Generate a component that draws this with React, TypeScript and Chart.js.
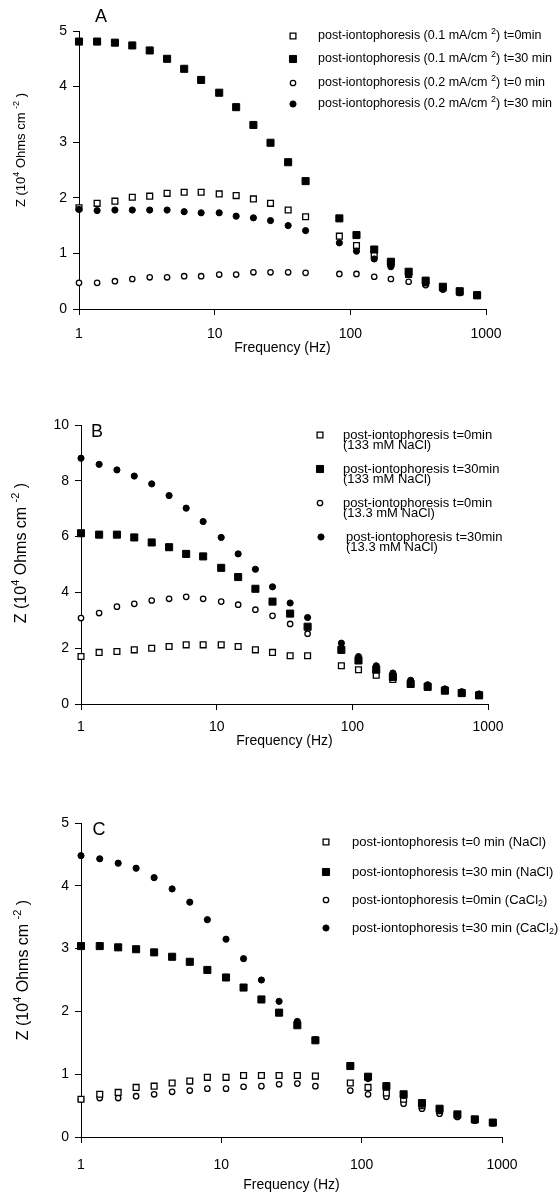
import React, { useEffect, useRef } from "react";
import { Chart, registerables } from "chart.js";

Chart.register(...registerables);

// ---------------- DATA ----------------
const FREQ_HZ = [1, 1.36, 1.84, 2.47, 3.32, 4.46, 5.96, 7.95, 10.8, 14.4, 19.3, 25.8, 34.8, 46.8, 83, 111, 150, 199, 269, 359, 481, 640, 860];
const X_TICKS = [1, 10, 100, 1000];
const X_TITLE = "Frequency (Hz)";
const Y_TITLE = "Z (10^{4} Ohms cm ^{-2} )";

// Panel A
const A_Y_TICKS = [0, 1, 2, 3, 4, 5];
const A_LABELS = [
  "post-iontophoresis (0.1 mA/cm ^{2}) t=0min",
  "post-iontophoresis (0.1 mA/cm ^{2}) t=30 min",
  "post-iontophoresis (0.2 mA/cm ^{2}) t=0 min",
  "post-iontophoresis (0.2 mA/cm ^{2}) t=30 min",
];
const A_01_T0 = [1.82, 1.90, 1.94, 2.01, 2.03, 2.08, 2.10, 2.10, 2.07, 2.04, 1.98, 1.90, 1.78, 1.66, 1.31, 1.14, 0.97, 0.82, 0.62, 0.47, 0.38, 0.30, 0.24];
const A_01_T30 = [4.81, 4.81, 4.79, 4.74, 4.65, 4.50, 4.32, 4.12, 3.89, 3.63, 3.31, 2.99, 2.64, 2.30, 1.63, 1.33, 1.07, 0.85, 0.67, 0.51, 0.40, 0.32, 0.25];
const A_02_T0 = [0.47, 0.47, 0.50, 0.54, 0.57, 0.57, 0.59, 0.59, 0.62, 0.62, 0.66, 0.66, 0.66, 0.65, 0.63, 0.63, 0.58, 0.54, 0.49, 0.43, 0.35, 0.29, 0.24];
const A_02_T30 = [1.79, 1.77, 1.78, 1.78, 1.78, 1.78, 1.75, 1.73, 1.73, 1.67, 1.64, 1.59, 1.50, 1.41, 1.19, 1.04, 0.90, 0.76, 0.62, 0.48, 0.37, 0.30, 0.24];

// Panel B
const B_Y_TICKS = [0, 2, 4, 6, 8, 10];
const B_LABELS = [
  ["post-iontophoresis t=0min", "(133 mM NaCl)"],
  ["post-iontophoresis t=30min", "(133 mM NaCl)"],
  ["post-iontophoresis t=0min", "(13.3 mM NaCl)"],
  ["post-iontophoresis t=30min", "(13.3 mM NaCl)"],
];
const B_133_T0 = [1.70, 1.85, 1.88, 1.94, 2.00, 2.06, 2.12, 2.12, 2.12, 2.06, 1.94, 1.85, 1.73, 1.73, 1.37, 1.23, 1.03, 0.88, 0.72, 0.60, 0.48, 0.40, 0.31];
const B_133_T30 = [6.12, 6.07, 6.07, 5.97, 5.79, 5.62, 5.38, 5.29, 4.88, 4.55, 4.13, 3.67, 3.24, 2.77, 1.94, 1.56, 1.23, 0.97, 0.72, 0.62, 0.48, 0.39, 0.31];
const B_13_T0 = [3.08, 3.26, 3.49, 3.59, 3.71, 3.77, 3.84, 3.77, 3.67, 3.56, 3.38, 3.16, 2.87, 2.52, 2.00, 1.60, 1.25, 1.00, 0.78, 0.64, 0.50, 0.41, 0.32];
const B_13_T30 = [8.81, 8.59, 8.39, 8.17, 7.89, 7.47, 7.02, 6.54, 5.97, 5.38, 4.83, 4.20, 3.62, 3.10, 2.18, 1.70, 1.37, 1.11, 0.85, 0.69, 0.54, 0.44, 0.36];

// Panel C
const C_Y_TICKS = [0, 1, 2, 3, 4, 5];
const C_LABELS = [
  "post-iontophoresis t=0 min (NaCl)",
  "post-iontophoresis t=30 min (NaCl)",
  "post-iontophoresis t=0min (CaCl_{2})",
  "post-iontophoresis t=30 min (CaCl_{2})",
];
const C_NACL_T0 = [0.60, 0.68, 0.71, 0.79, 0.81, 0.86, 0.89, 0.95, 0.95, 0.98, 0.98, 0.98, 0.98, 0.97, 0.86, 0.79, 0.70, 0.60, 0.50, 0.42, 0.35, 0.28, 0.23];
const C_NACL_T30 = [3.04, 3.04, 3.02, 2.99, 2.94, 2.87, 2.79, 2.66, 2.54, 2.38, 2.19, 1.98, 1.78, 1.54, 1.13, 0.96, 0.81, 0.68, 0.54, 0.45, 0.36, 0.28, 0.23];
const C_CACL_T0 = [0.60, 0.62, 0.62, 0.65, 0.68, 0.72, 0.74, 0.77, 0.77, 0.80, 0.81, 0.84, 0.85, 0.81, 0.74, 0.68, 0.64, 0.53, 0.45, 0.37, 0.32, 0.26, 0.22];
const C_CACL_T30 = [4.48, 4.43, 4.36, 4.28, 4.13, 3.95, 3.74, 3.46, 3.15, 2.84, 2.50, 2.16, 1.84, 1.55, 1.14, 0.93, 0.80, 0.66, 0.52, 0.43, 0.35, 0.28, 0.23];

// ---------------- STYLE / LAYOUT ----------------
const FONT = '"Liberation Sans", Arial, Helvetica, sans-serif';
const TICK_SIZE = 14;
const TITLE_SIZE = 14;
const LETTER_SIZE = 18;

type Shape = "sqOpen" | "sqFill" | "cirOpen" | "cirFill";
const SHAPES: Shape[] = ["sqOpen", "sqFill", "cirOpen", "cirFill"];
const ORDER: Record<Shape, number> = { sqFill: 0, cirFill: 1, sqOpen: 2, cirOpen: 3 };

function markerStyle(shape: Shape) {
  switch (shape) {
    case "sqOpen": return { pointStyle: "rect", radius: 4.1, bg: "#fff", bw: 1.3 };
    case "sqFill": return { pointStyle: "rect", radius: 5, bg: "#000", bw: 1 };
    case "cirOpen": return { pointStyle: "circle", radius: 2.7, bg: "#fff", bw: 1.3 };
    default: return { pointStyle: "circle", radius: 3.1, bg: "#000", bw: 1 };
  }
}

type Panel = {
  key: string;
  top: number;
  height: number;
  area: { left: number; right: number; top: number; bottom: number };
  yTicks: number[];
  series: number[][];
  labels: (string | string[])[];
  legend: { markerX: number[]; textX: number[]; rowY: number[]; lineGap: number; size: number };
  yTitle: { x: number; y: number; size: number };
  letterPos: [number, number];
  xTitleY: number;
  xTickPad: number;
};

const PANELS: Panel[] = [
  {
    key: "A",
    top: 0,
    height: 362,
    area: { left: 79, right: 486, top: 31, bottom: 309 },
    yTicks: A_Y_TICKS,
    series: [A_01_T0, A_01_T30, A_02_T0, A_02_T30],
    labels: A_LABELS,
    legend: { markerX: [293, 293, 293, 293], textX: [318, 318, 318, 318], rowY: [36, 59, 83, 104], lineGap: 0, size: 12.5 },
    yTitle: { x: 21, y: 150, size: 13 },
    letterPos: [101, 17],
    xTitleY: 348,
    xTickPad: 11,
  },
  {
    key: "B",
    top: 380,
    height: 372,
    area: { left: 81, right: 488, top: 425, bottom: 704 },
    yTicks: B_Y_TICKS,
    series: [B_133_T0, B_133_T30, B_13_T0, B_13_T30],
    labels: B_LABELS,
    legend: { markerX: [320, 320, 320, 321], textX: [343, 343, 343, 346], rowY: [435, 469, 503, 537], lineGap: 10.5, size: 13 },
    yTitle: { x: 22, y: 553, size: 16 },
    letterPos: [97, 432],
    xTitleY: 741,
    xTickPad: 9,
  },
  {
    key: "C",
    top: 790,
    height: 406,
    area: { left: 81, right: 502, top: 823, bottom: 1137 },
    yTicks: C_Y_TICKS,
    series: [C_NACL_T0, C_NACL_T30, C_CACL_T0, C_CACL_T30],
    labels: C_LABELS,
    legend: { markerX: [326, 326, 326, 326], textX: [352, 352, 352, 352], rowY: [842, 872, 900, 928], lineGap: 0, size: 13 },
    yTitle: { x: 24, y: 970, size: 16 },
    letterPos: [99, 830],
    xTitleY: 1185,
    xTickPad: 14,
  },
];

// ---------------- RICH TEXT ----------------
type Seg = { t: string; k: number };
function parseRich(s: string): Seg[] {
  const out: Seg[] = [];
  const re = /(\^|_)\{([^}]*)\}/g;
  let last = 0;
  let m: RegExpExecArray | null;
  while ((m = re.exec(s))) {
    if (m.index > last) out.push({ t: s.slice(last, m.index), k: 0 });
    out.push({ t: m[2], k: m[1] === "^" ? 1 : -1 });
    last = re.lastIndex;
  }
  if (last < s.length) out.push({ t: s.slice(last), k: 0 });
  return out;
}
function segFont(size: number, k: number) {
  return `${k === 0 ? size : Math.round(size * 0.68)}px ${FONT}`;
}
function richWidth(ctx: CanvasRenderingContext2D, segs: Seg[], size: number) {
  let w = 0;
  for (const s of segs) {
    ctx.font = segFont(size, s.k);
    w += ctx.measureText(s.t).width;
  }
  return w;
}
function drawRich(ctx: CanvasRenderingContext2D, text: string, x: number, y: number, size: number, align: "left" | "center") {
  const segs = parseRich(text);
  let cx = align === "center" ? x - richWidth(ctx, segs, size) / 2 : x;
  ctx.textBaseline = "middle";
  ctx.textAlign = "left";
  for (const s of segs) {
    ctx.font = segFont(size, s.k);
    const dy = s.k === 1 ? -size * 0.38 : s.k === -1 ? size * 0.3 : 0;
    ctx.fillText(s.t, cx, y + dy);
    cx += ctx.measureText(s.t).width;
  }
}

function drawMarker(ctx: CanvasRenderingContext2D, shape: Shape, x: number, y: number) {
  const st = markerStyle(shape);
  ctx.save();
  ctx.fillStyle = st.bg;
  ctx.strokeStyle = "#000";
  ctx.lineWidth = st.bw;
  ctx.beginPath();
  if (st.pointStyle === "rect") {
    const h = st.radius * Math.SQRT1_2;
    ctx.rect(x - h, y - h, 2 * h, 2 * h);
  } else {
    ctx.arc(x, y, st.radius, 0, Math.PI * 2);
  }
  ctx.fill();
  ctx.stroke();
  ctx.restore();
}

function makeDecor(p: Panel) {
  return {
    id: "decor" + p.key,
    afterDraw(chart: any) {
      const ctx: CanvasRenderingContext2D = chart.ctx;
      const oy = p.top;
      ctx.save();
      ctx.fillStyle = "#000";
      // panel letter
      ctx.font = `${LETTER_SIZE}px ${FONT}`;
      ctx.textAlign = "center";
      ctx.textBaseline = "middle";
      ctx.fillText(p.key, p.letterPos[0], p.letterPos[1] - oy);
      // y title (rotated)
      ctx.save();
      ctx.translate(p.yTitle.x, p.yTitle.y - oy);
      ctx.rotate(-Math.PI / 2);
      drawRich(ctx, Y_TITLE, 0, 0, p.yTitle.size, "center");
      ctx.restore();
      // legend
      p.labels.forEach((lab, i) => {
        const y = p.legend.rowY[i] - oy;
        drawMarker(ctx, SHAPES[i], p.legend.markerX[i], y);
        const lines = Array.isArray(lab) ? lab : [lab];
        lines.forEach((ln, j) => {
          ctx.fillStyle = "#000";
          drawRich(ctx, ln, p.legend.textX[i], y + j * p.legend.lineGap, p.legend.size, "left");
        });
      });
      ctx.restore();
    },
  };
}

function makeChart(canvas: HTMLCanvasElement, p: Panel) {
  const datasets = p.series.map((vals, i) => {
    const shape = SHAPES[i];
    const st = markerStyle(shape);
    return {
      label: Array.isArray(p.labels[i]) ? (p.labels[i] as string[]).join(" ") : (p.labels[i] as string),
      data: FREQ_HZ.map((f, j) => ({ x: f, y: vals[j] })),
      pointStyle: st.pointStyle,
      pointRadius: st.radius,
      pointHoverRadius: st.radius,
      backgroundColor: st.bg,
      borderColor: "#000",
      borderWidth: st.bw,
      showLine: false,
      order: ORDER[shape],
      clip: false,
    };
  });
  const yMax = p.yTicks[p.yTicks.length - 1];
  const xAxisH = p.top + p.height - p.area.bottom;
  const lh = TITLE_SIZE * 1.2;
  const titlePadBottom = p.top + p.height - p.xTitleY - lh / 2;
  return new Chart(canvas, {
    type: "scatter",
    data: { datasets },
    options: {
      responsive: false,
      animation: false,
      devicePixelRatio: 1,
      layout: { padding: { left: 0, top: p.area.top - p.top, right: 560 - p.area.right, bottom: 0 } },
      plugins: { legend: { display: false }, tooltip: { enabled: false }, title: { display: false } },
      scales: {
        x: {
          type: "logarithmic",
          min: 1,
          max: 1000,
          afterBuildTicks: (s: any) => { s.ticks = X_TICKS.map((v) => ({ value: v })); },
          afterFit: (s: any) => { s.height = xAxisH; },
          ticks: { color: "#000", font: { family: FONT, size: TICK_SIZE }, padding: p.xTickPad, maxRotation: 0, autoSkip: false, callback: (v: any) => String(v) },
          grid: { drawOnChartArea: false, drawTicks: true, tickLength: 6, color: "#000", lineWidth: 1 },
          border: { display: true, color: "#000", width: 1 },
          title: { display: true, text: X_TITLE, color: "#000", font: { family: FONT, size: TITLE_SIZE }, padding: { top: 0, bottom: titlePadBottom } },
        },
        y: {
          type: "linear",
          min: 0,
          max: yMax,
          afterBuildTicks: (s: any) => { s.ticks = p.yTicks.map((v) => ({ value: v })); },
          afterFit: (s: any) => { s.width = p.area.left; },
          ticks: { color: "#000", font: { family: FONT, size: TICK_SIZE }, padding: 6, callback: (v: any) => String(v) },
          grid: { drawOnChartArea: false, drawTicks: true, tickLength: 6, color: "#000", lineWidth: 1 },
          border: { display: true, color: "#000", width: 1 },
        },
      },
    } as any,
    plugins: [makeDecor(p)],
  } as any);
}

function PanelChart({ p }: { p: Panel }) {
  const ref = useRef<HTMLCanvasElement | null>(null);
  useEffect(() => {
    if (!ref.current) return;
    const chart = makeChart(ref.current, p);
    return () => chart.destroy();
  }, [p]);
  return (
    <canvas
      ref={ref}
      width={560}
      height={p.height}
      style={{ position: "absolute", left: 0, top: p.top, width: 560, height: p.height, display: "block" }}
    />
  );
}

export default function App() {
  return (
    <div style={{ position: "absolute", left: 0, top: 0, width: 560, height: 1196, background: "#fff", overflow: "hidden" }}>
      {PANELS.map((p) => (
        <PanelChart key={p.key} p={p} />
      ))}
    </div>
  );
}
